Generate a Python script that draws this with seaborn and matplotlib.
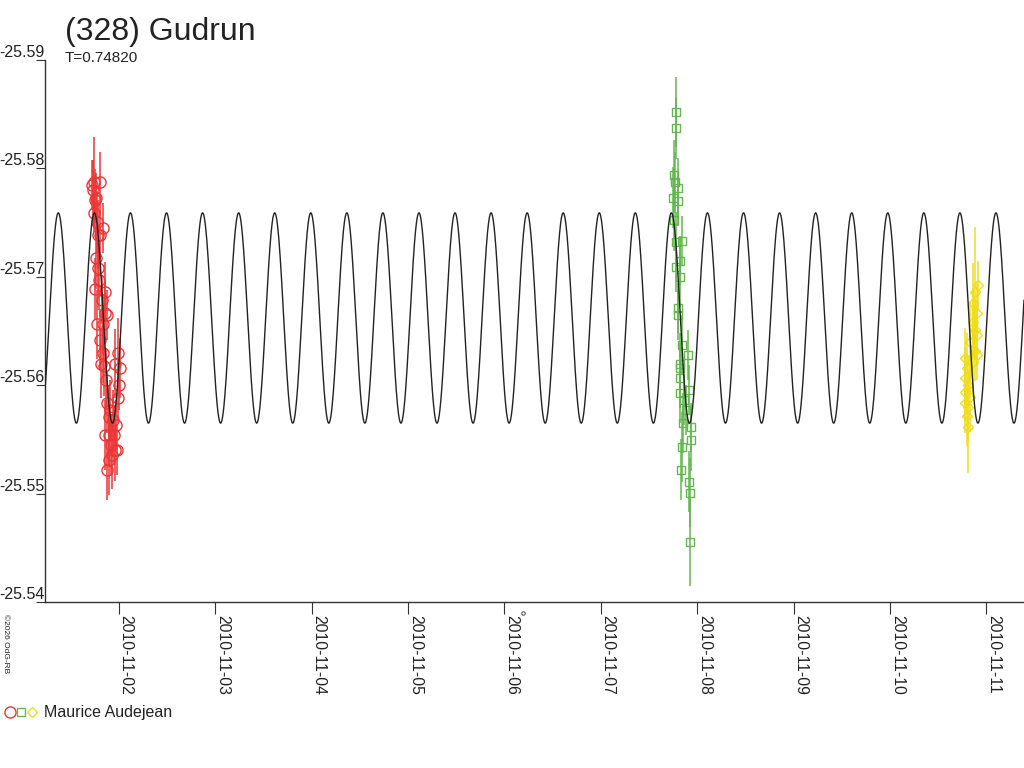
import numpy as np
import pandas as pd
import matplotlib
matplotlib.use("Agg")
import matplotlib.pyplot as plt
import matplotlib.dates as mdates
from matplotlib.lines import Line2D
from matplotlib.legend_handler import HandlerTuple
import seaborn as sns

title = "(328) Gudrun"
period = 0.74820  # rotation period, days
observer = "Maurice Audejean"

# fitted light curve (two maxima per rotation)
model_mean = -25.5662
model_amp = 0.0097
model_epoch = pd.Timestamp("2010-11-01 08:58")  # one maximum
x_start = pd.Timestamp("2010-11-01 05:39")
x_end = pd.Timestamp("2010-11-11 09:23")

y_ticks = [-25.59, -25.58, -25.57, -25.56, -25.55, -25.54]

# session 1, 2010-11-01 (t = fraction of day)
red_night = "2010-11-01"
red_t = [0.723, 0.733, 0.744, 0.754, 0.765, 0.744, 0.775, 0.785, 0.806, 0.837,
         0.806, 0.765, 0.785, 0.754, 0.796, 0.858, 0.827, 0.858, 0.879, 0.775,
         0.837, 0.806, 0.816, 0.848, 0.993, 1.013, 1.003, 0.868, 0.879, 0.993,
         0.910, 0.941, 0.972, 0.899, 0.951, 0.920, 0.962, 0.899, 0.879, 0.930,
         0.837, 0.962, 0.896, 0.982, 0.858]
red_mag = [-25.5785, -25.5780, -25.5787, -25.5771, -25.5773, -25.5759, -25.5751, -25.5739, -25.5787, -25.5745,
           -25.5739, -25.5717, -25.5708, -25.5689, -25.5697, -25.5686, -25.5679, -25.5667, -25.5665, -25.5656,
           -25.5656, -25.5642, -25.5620, -25.5618, -25.5630, -25.5616, -25.5600, -25.5605, -25.5584, -25.5588,
           -25.5577, -25.5568, -25.5563, -25.5554, -25.5554, -25.5545, -25.5540, -25.5531, -25.5522, -25.5536,
           -25.5630, -25.5620, -25.5571, -25.5540, -25.5554]
red_err = [0.0023, 0.0028, 0.0042, 0.0028, 0.0023, 0.0018, 0.0028, 0.0032, 0.0028, 0.0023,
           0.0023, 0.0028, 0.0023, 0.0028, 0.0028, 0.0028, 0.0023, 0.0028, 0.0023, 0.0032,
           0.0028, 0.0028, 0.0032, 0.0028, 0.0032, 0.0028, 0.0023, 0.0028, 0.0028, 0.0023,
           0.0028, 0.0028, 0.0023, 0.0028, 0.0028, 0.0028, 0.0028, 0.0032, 0.0028, 0.0032,
           0.0028, 0.0032, 0.0028, 0.0023, 0.0032]

# session 2, 2010-11-07
green_night = "2010-11-07"
green_t = [0.777, 0.777, 0.756, 0.767, 0.798, 0.746, 0.798, 0.756, 0.839, 0.777,
           0.818, 0.777, 0.818, 0.798, 0.798, 0.839, 0.902, 0.818, 0.818, 0.818,
           0.912, 0.818, 0.860, 0.881, 0.850, 0.933, 0.933, 0.839, 0.829, 0.912,
           0.922, 0.922]
green_mag = [-25.5852, -25.5837, -25.5794, -25.5787, -25.5782, -25.5773, -25.5770, -25.5752, -25.5733, -25.5732,
             -25.5715, -25.5709, -25.5700, -25.5671, -25.5665, -25.5637, -25.5628, -25.5620, -25.5616, -25.5607,
             -25.5596, -25.5593, -25.5586, -25.5577, -25.5565, -25.5561, -25.5549, -25.5543, -25.5522, -25.5511,
             -25.5501, -25.5455]
green_err = [0.0032, 0.0028, 0.0032, 0.0028, 0.0028, 0.0028, 0.0023, 0.0028, 0.0023, 0.0028,
             0.0023, 0.0023, 0.0028, 0.0023, 0.0023, 0.0028, 0.0023, 0.0028, 0.0023, 0.0028,
             0.0023, 0.0028, 0.0023, 0.0023, 0.0028, 0.0023, 0.0028, 0.0032, 0.0028, 0.0028,
             0.0032, 0.0040]

# session 3, 2010-11-10
yellow_night = "2010-11-10"
yellow_t = [0.917, 0.886, 0.865, 0.907, 0.865, 0.886, 0.907, 0.834, 0.886, 0.907,
            0.782, 0.865, 0.803, 0.782, 0.813, 0.782, 0.834, 0.782, 0.813, 0.803, 0.813]
yellow_mag = [-25.5692, -25.5686, -25.5676, -25.5667, -25.5658, -25.5651, -25.5646, -25.5640, -25.5632, -25.5628,
              -25.5625, -25.5621, -25.5616, -25.5607, -25.5600, -25.5594, -25.5589, -25.5584, -25.5580, -25.5572,
              -25.5561]
yellow_err = [0.0023, 0.0060, 0.0037, 0.0028, 0.0032, 0.0028, 0.0028, 0.0037, 0.0028, 0.0023,
              0.0028, 0.0032, 0.0032, 0.0028, 0.0028, 0.0028, 0.0032, 0.0028, 0.0032, 0.0028, 0.0042]

sessions = [
    (red_night, red_t, red_mag, red_err, "#ec3636", "o", 8),
    (green_night, green_t, green_mag, green_err, "#62b84f", "s", 5.6),
    (yellow_night, yellow_t, yellow_mag, yellow_err, "#f0dc1c", "D", 5),
]

sns.set_theme(style="white")
plt.rcParams["font.family"] = ["Liberation Sans", "DejaVu Sans"]
plt.rcParams["axes.unicode_minus"] = False
text_col = "#222222"

fig = plt.figure(figsize=(10.24, 7.68), dpi=100)
ax = fig.add_axes([45 / 1024, 1 - 602 / 768, 979 / 1024, 542 / 768])

handles = []
for night, t, mag, err, col, mk, ms in sessions:
    dates = pd.Timestamp(night) + pd.to_timedelta(np.array(t), unit="D")
    ax.errorbar(dates, mag, yerr=err, fmt=mk, ms=ms, mfc="none", mec=col, mew=1.0,
                ecolor=col, elinewidth=1.1, capsize=0, zorder=3)
    handles.append(Line2D([], [], ls="none", marker=mk, ms=ms, mfc="none", mec=col, mew=1.0))

# model curve
t_model = pd.date_range(x_start, x_end, periods=4000)
phase = (t_model - model_epoch) / pd.Timedelta(days=1)
mag_model = model_mean - model_amp * np.cos(2 * np.pi * phase / (period / 2))
sns.lineplot(x=t_model, y=mag_model, color="#222222", lw=1.0, ax=ax, zorder=5)

ax.set_xlim(x_start, x_end)
ax.set_ylim(-25.54, -25.59)
ax.set_yticks(y_ticks)
ax.set_yticklabels([f"{v:.2f}" for v in y_ticks])
ax.xaxis.set_major_locator(mdates.DayLocator())
ax.xaxis.set_major_formatter(mdates.DateFormatter("%Y-%m-%d"))
ax.set_xlabel("")
ax.set_ylabel("")

sns.despine(ax=ax)
for s in ["left", "bottom"]:
    ax.spines[s].set_color("#333333")
    ax.spines[s].set_linewidth(1.0)

ax.tick_params(axis="y", direction="out", length=6.5, width=0.8, pad=-6.5,
               labelsize=11.5, colors="#333333", labelcolor=text_col, left=True)
for lbl in ax.get_yticklabels():
    lbl.set_va("bottom")
    lbl.set_ha("right")
ax.tick_params(axis="x", direction="out", length=8.6, width=0.8, pad=1,
               labelsize=11.3, colors="#333333", labelcolor=text_col, labelrotation=270, bottom=True)
for lbl in ax.get_xticklabels():
    lbl.set_ha("left")
    lbl.set_va("top")

# small mark under the axis
ax.plot([pd.Timestamp("2010-11-06 04:40")], [-0.02], marker="o", ms=2.5, mfc="none",
        mec="#444444", mew=0.7, transform=ax.get_xaxis_transform(), clip_on=False)

fig.text(65 / 1024, 1 - 40 / 768, title, fontsize=23, color=text_col, va="baseline", ha="left")
fig.text(65 / 1024, 1 - 62 / 768, f"T={period:.5f}", fontsize=11, color=text_col, va="baseline", ha="left")
fig.text(2 / 1024, 1 - 614 / 768, "\u00a92026 OdG-RB", fontsize=6, rotation=270, color=text_col,
         va="top", ha="left")

fig.legend(handles=[tuple(handles)], labels=[observer],
           handler_map={tuple: HandlerTuple(ndivide=None, pad=0)},
           loc="center left", bbox_to_anchor=(4 / 1024, 1 - 713 / 768),
           frameon=False, borderpad=0, borderaxespad=0, handlelength=2.13,
           handletextpad=0.4, fontsize=11.5, labelcolor=text_col)

fig.savefig("out.png", dpi=100)
